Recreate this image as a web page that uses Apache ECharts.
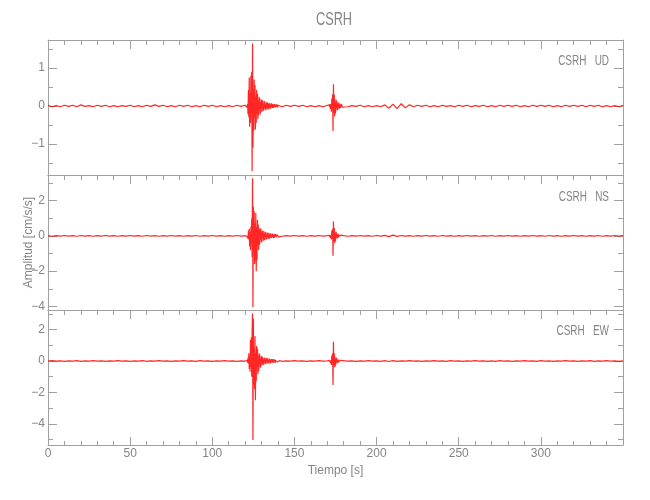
<!DOCTYPE html>
<html><head><meta charset="utf-8">
<script src="https://cdn.jsdelivr.net/npm/echarts@6/dist/echarts.min.js"></script>
<style>html,body{margin:0;padding:0;background:#fff}#c{width:650px;height:500px}</style>
</head><body><div id="c"></div>
<script>
// ---- sampling of the hand-read trace segments (seconds) ----
const preStart = 0,      preStep = 2.5;    // 0 .. 120 s
const burst1Start = 121, burst1Step = 0.25; // 121 .. 141 s
const midStart = 142.5,  midStep = 2.5;    // 142.5 .. 170 s
const burst2Start = 171, burst2Step = 0.25; // 171 .. 179 s
const postStart = 180,   postStep = 2.5;   // 180 .. 350 s

const channelNames = ['UD', 'NS', 'EW'];
const stationName = 'CSRH';

// ---- UD (cm/s/s) ----
const udPre = [0.02,-0.02,0.01,-0.02,0.02,-0.01,0.02,-0.02,0.03,-0.01,0.01,-0.02,0.02,-0.01,0.02,-0.02,0.01,-0.02,0.01,-0.01,0.02,-0.02,0.01,-0.02,0.02,-0.01,0.03,-0.01,0.02,-0.02,0.01,-0.02,0.02,-0.01,0.02,-0.02,0.01,-0.02,0.02,-0.01,0.02,-0.02,0.01,-0.02,0.01,-0.02,0.02,-0.01,0.02];
const udBurst1 = [0.03,-0.04,0.06,-0.22,0.42,-0.3,0.75,-0.55,0.35,-0.45,0.8,-0.2,0.9,-1.72,1.65,-1.1,0.45,-0.65,0.7,-0.3,0.55,-0.62,0.25,-0.45,0.42,-0.2,0.32,-0.35,0.15,-0.25,0.24,-0.1,0.2,-0.22,0.1,-0.16,0.17,-0.08,0.15,-0.14,0.06,-0.12,0.13,-0.05,0.12,-0.1,0.05,-0.11,0.09,-0.04,0.1,-0.08,0.05,-0.09,0.08,-0.03,0.07,-0.07,0.04,-0.06,0.07,-0.03,0.06,-0.05,0.03,-0.05,0.05,-0.02,0.05,-0.04,0.03,-0.04,0.04,-0.02,0.04,-0.04,0.02,-0.03,0.03,-0.02,0.02];
const udMid = [-0.02,0.02,-0.01,0.02,-0.01,0.02,-0.02,0.01,-0.02,0.01,-0.02,0.02];
const udBurst2 = [-0.02,0.03,-0.04,0.05,-0.08,0.04,-0.15,0.2,-0.1,0.3,-0.66,0.57,-0.2,0.3,-0.28,0.1,-0.2,0.18,-0.06,0.14,-0.12,0.04,-0.1,0.09,-0.03,0.07,-0.07,0.03,-0.05,0.06,-0.02,0.04,-0.03];
const udPost = [0.02,-0.02,0.01,-0.01,0.02,-0.02,0.01,-0.02,0.01,-0.02,0.03,-0.06,0.05,-0.07,0.06,-0.05,0.03,-0.02,0.02,-0.01,0.02,-0.02,0.01,-0.02,0.02,-0.01,0.01,-0.02,0.02,-0.01,0.02,-0.02,0.01,-0.01,0.02,-0.02,0.01,-0.02,0.02,-0.01,0.02,-0.01,0.02,-0.02,0.01,-0.02,0.02,-0.01,0.02,-0.01,0.02,-0.02,0.01,-0.02,0.02,-0.01,0.02,-0.01,0.02,-0.02,0.02,-0.01,0.02,-0.02,0.01,-0.02,0.01,-0.02,0.02];

// ---- NS ----
const nsPre = [0.01,-0.02,0.01,-0.01,0.02,-0.01,0.01,-0.02,0.02,-0.01,0.01,-0.02,0.01,-0.01,0.02,-0.01,0.01,-0.02,0.01,-0.01,0.02,-0.01,0.01,-0.02,0.02,-0.01,0.01,-0.02,0.01,-0.01,0.02,-0.01,0.01,-0.02,0.01,-0.01,0.02,-0.02,0.01,-0.01,0.02,-0.01,0.01,-0.02,0.01,-0.01,0.02,-0.01,0.01];
const nsBurst1 = [0.02,-0.03,0.05,-0.15,0.3,-0.2,0.4,-0.6,0.2,-0.8,0.53,-0.4,1.0,-1.2,3.26,-4.05,1.65,-0.9,1.4,-1.6,0.7,-1.4,1.3,-2.0,0.5,-1.35,0.9,-0.5,0.65,-0.8,0.3,-0.5,0.45,-0.2,0.4,-0.38,0.15,-0.33,0.3,-0.12,0.28,-0.27,0.1,-0.24,0.25,-0.08,0.2,-0.22,0.08,-0.18,0.19,-0.06,0.18,-0.16,0.07,-0.16,0.15,-0.05,0.15,-0.13,0.05,-0.12,0.13,-0.04,0.11,-0.12,0.04,-0.11,0.1,-0.03,0.1,-0.08,0.03,-0.08,0.07,-0.02,0.07,-0.06,0.02,-0.04,0.03];
const nsMid = [-0.02,0.01,-0.01,0.02,-0.01,0.01,-0.02,0.01,-0.01,0.02,-0.01,0.01];
const nsBurst2 = [-0.02,0.03,-0.04,0.06,-0.1,0.05,-0.2,0.3,-0.15,0.4,-1.13,0.81,-0.3,0.45,-0.4,0.15,-0.3,0.25,-0.08,0.18,-0.15,0.05,-0.12,0.1,-0.03,0.08,-0.07,0.03,-0.06,0.04,-0.02,0.03,-0.02];
const nsPost = [0.01,-0.02,0.01,-0.01,0.02,-0.01,0.01,-0.02,0.02,-0.01,0.03,-0.04,0.04,-0.03,0.02,-0.01,0.01,-0.02,0.01,-0.01,0.02,-0.01,0.01,-0.02,0.02,-0.01,0.01,-0.02,0.01,-0.01,0.02,-0.01,0.01,-0.02,0.01,-0.01,0.02,-0.02,0.01,-0.01,0.02,-0.01,0.01,-0.02,0.01,-0.01,0.02,-0.01,0.01,-0.02,0.02,-0.01,0.01,-0.02,0.01,-0.01,0.02,-0.01,0.01,-0.02,0.01,-0.01,0.02,-0.02,0.01,-0.01,0.02,-0.01,0.01];

// ---- EW ----
const ewPre = [-0.01,0.02,-0.01,0.01,-0.02,0.01,-0.01,0.02,-0.02,0.01,-0.01,0.02,-0.01,0.01,-0.02,0.01,-0.01,0.02,-0.01,0.01,-0.02,0.01,-0.01,0.02,-0.02,0.01,-0.01,0.02,-0.01,0.01,-0.02,0.01,-0.01,0.02,-0.01,0.01,-0.02,0.02,-0.01,0.01,-0.02,0.01,-0.01,0.02,-0.01,0.01,-0.02,0.01,-0.01];
const ewBurst1 = [-0.03,0.05,-0.1,0.2,-0.15,0.5,-0.5,0.3,-0.68,1.34,-0.4,1.5,-1.0,1.8,3.03,-5.03,2.7,-1.5,0.8,-1.8,1.6,-2.5,0.5,-1.3,0.95,-0.4,0.8,-0.85,0.3,-0.65,0.5,-0.2,0.4,-0.42,0.15,-0.33,0.3,-0.1,0.27,-0.25,0.1,-0.23,0.22,-0.08,0.2,-0.21,0.07,-0.18,0.19,-0.06,0.18,-0.16,0.06,-0.15,0.16,-0.05,0.14,-0.15,0.05,-0.13,0.12,-0.04,0.12,-0.11,0.04,-0.1,0.13,-0.03,0.1,-0.12,0.03,-0.09,0.08,-0.03,0.07,-0.07,0.02,-0.06,0.05,-0.02,0.03];
const ewMid = [-0.02,0.01,-0.01,0.02,-0.01,0.01,-0.02,0.01,-0.01,0.02,-0.01,0.01];
const ewBurst2 = [-0.03,0.04,-0.06,0.08,-0.12,0.06,-0.25,0.35,-0.15,0.5,-1.53,1.23,-0.3,0.5,-0.4,0.15,-0.3,0.25,-0.08,0.18,-0.15,0.05,-0.12,0.1,-0.03,0.08,-0.07,0.03,-0.06,0.05,-0.02,0.04,-0.03];
const ewPost = [0.02,-0.01,0.01,-0.02,0.01,-0.01,0.02,-0.01,0.01,-0.02,0.02,-0.03,0.02,-0.02,0.01,-0.01,0.02,-0.01,0.01,-0.02,0.01,-0.01,0.02,-0.01,0.01,-0.02,0.02,-0.01,0.01,-0.02,0.01,-0.01,0.02,-0.01,0.01,-0.02,0.01,-0.02,0.02,-0.01,0.01,-0.02,0.01,-0.01,0.02,-0.01,0.01,-0.02,0.02,-0.01,0.01,-0.02,0.01,-0.01,0.02,-0.01,0.01,-0.02,0.01,-0.01,0.02,-0.02,0.01,-0.01,0.02,-0.01,0.01,-0.02,0.01];

function seg(start, step, vals) {
  return vals.map((v, i) => [Math.round((start + i * step) * 1000) / 1000, v]);
}
function trace(pre, b1, mid, b2, post) {
  return [].concat(seg(preStart, preStep, pre), seg(burst1Start, burst1Step, b1),
    seg(midStart, midStep, mid), seg(burst2Start, burst2Step, b2), seg(postStart, postStep, post));
}
const traces = [
  trace(udPre, udBurst1, udMid, udBurst2, udPost),
  trace(nsPre, nsBurst1, nsMid, nsBurst2, nsPost),
  trace(ewPre, ewBurst1, ewMid, ewBurst2, ewPost)
];

// ---- layout / style ----
const FONT = "'Liberation Sans', 'DejaVu Sans', sans-serif";
const AXIS = '#a0a0a0', TXT = '#858585';
const panelTops = [40, 175, 310], panelH = 135;
const yRanges = [{min: -1.82, max: 1.74, step: 1}, {min: -4.2, max: 3.45, step: 2}, {min: -5.35, max: 3.25, step: 2}];
const tagY = [61, 197, 331];

const grids = [], xAxes = [], yAxes = [], series = [], graphics = [];
graphics.push({type: 'text', x: 334, y: 20, scaleX: 0.67,
  style: {text: stationName, fontFamily: FONT, fontSize: 19, fill: TXT, textAlign: 'center', textVerticalAlign: 'middle'}});

for (let i = 0; i < 3; i++) {
  grids.push({left: 48, right: 27, top: panelTops[i], height: panelH});
  const last = i === 2;
  xAxes.push({
    type: 'value', gridIndex: i, position: 'bottom', min: 0, max: 350, interval: 50,
    axisLine: {show: true, onZero: false, lineStyle: {color: AXIS, width: 1}},
    axisTick: {show: last, inside: true, length: 8, lineStyle: {color: AXIS}},
    minorTick: {show: last, splitNumber: 5, length: 4, lineStyle: {color: AXIS}},
    axisLabel: {show: last, showMaxLabel: false, margin: 3, color: TXT, fontFamily: FONT, fontSize: 12},
    splitLine: {show: false},
    name: last ? 'Tiempo [s]' : '', nameLocation: 'middle', nameGap: 20, nameMoveOverlap: false,
    nameTextStyle: {color: TXT, fontFamily: FONT, fontSize: 12}
  });
  xAxes.push({
    type: 'value', gridIndex: i, position: 'top', min: 0, max: 350, interval: 50,
    axisLine: {show: true, onZero: false, lineStyle: {color: AXIS, width: 1}},
    axisTick: {show: true, inside: true, length: 9, lineStyle: {color: AXIS}},
    minorTick: {show: true, splitNumber: 5, length: 5, lineStyle: {color: AXIS}},
    axisLabel: {show: false}, splitLine: {show: false}
  });
  const r = yRanges[i];
  const yBase = {
    type: 'value', gridIndex: i, min: r.min, max: r.max, minInterval: r.step, maxInterval: r.step, splitNumber: 4,
    axisLine: {show: true, onZero: false, lineStyle: {color: AXIS, width: 1}},
    axisTick: {show: true, inside: true, length: 9, lineStyle: {color: AXIS}},
    minorTick: {show: true, splitNumber: 2, length: 5, lineStyle: {color: AXIS}},
    splitLine: {show: false}
  };
  yAxes.push(Object.assign({}, yBase, {
    position: 'left',
    axisLabel: {show: true, showMinLabel: false, showMaxLabel: false, margin: 3, color: TXT, fontFamily: FONT, fontSize: 12,
      formatter: v => String(v).replace('-', '\u2212')},
    name: i === 1 ? 'Amplitud [cm/s/s]' : '', nameLocation: 'middle', nameGap: 13, nameMoveOverlap: false,
    nameTextStyle: {color: TXT, fontFamily: FONT, fontSize: 12}
  }));
  yAxes.push(Object.assign({}, yBase, {position: 'right', axisLabel: {show: false}}));
  series.push({
    type: 'line', xAxisIndex: 2 * i, yAxisIndex: 2 * i, data: traces[i],
    showSymbol: false, symbol: 'none', sampling: null, animation: false, clip: false,
    lineStyle: {color: '#ff0000', width: 1.2, opacity: 0.85}
  });
  graphics.push({type: 'text', x: 609, y: tagY[i], scaleX: 0.71,
    style: {text: stationName + '   ' + channelNames[i], fontFamily: FONT, fontSize: 14, fill: TXT,
      textAlign: 'right', textVerticalAlign: 'middle'}});
}

const chart = echarts.init(document.getElementById('c'), null, {renderer: 'canvas'});
chart.setOption({
  animation: false, backgroundColor: '#fff',
  grid: grids, xAxis: xAxes, yAxis: yAxes, series: series, graphic: graphics
});
</script></body></html>
